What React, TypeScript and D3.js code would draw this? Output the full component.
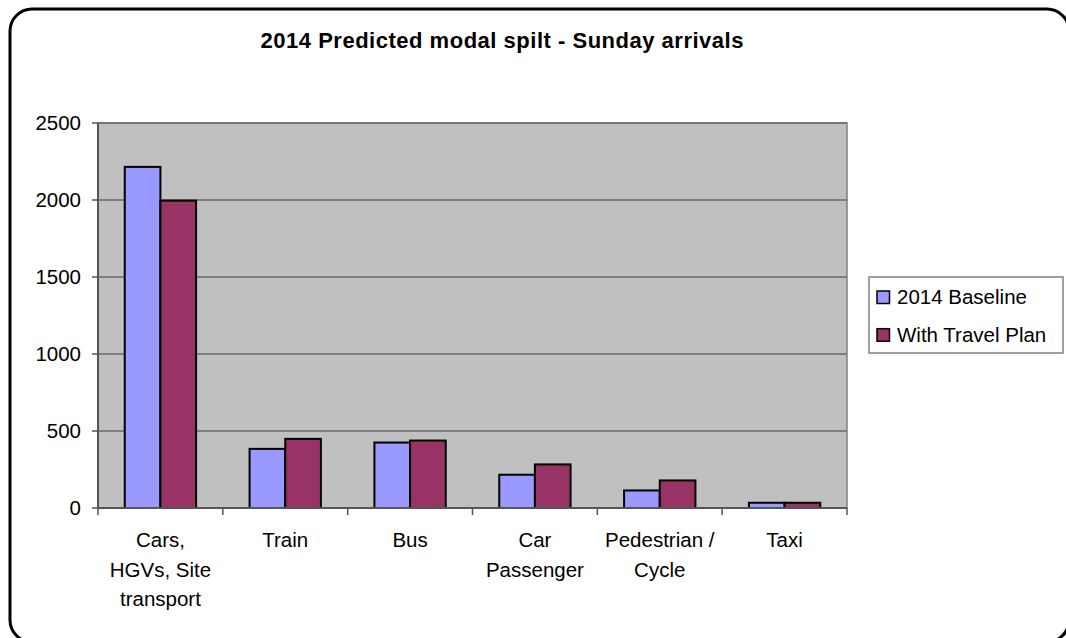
import { useMemo } from "react";
import * as d3 from "d3";

const categories = [
  ["Cars,", "HGVs, Site", "transport"],
  ["Train"],
  ["Bus"],
  ["Car", "Passenger"],
  ["Pedestrian /", "Cycle"],
  ["Taxi"],
];
const seriesNames = ["2014 Baseline", "With Travel Plan"];
const baseline = [2215, 384, 425, 216, 114, 34];
const withPlan = [1996, 449, 438, 283, 179, 34];
const yTicks = [0, 500, 1000, 1500, 2000, 2500];

const colors = ["#9999FF", "#993366"];
const font = "'Liberation Sans', Arial, sans-serif";
const labelSize = 20.5;

// page coordinates
const plot = { left: 98, right: 847, top: 123, bottom: 508 };

const App = () => {
  const { xScale, x1, yScale, keys } = useMemo(() => {
    const keys = categories.map((c) => c.join(" "));
    const xScale = d3
      .scaleBand<string>()
      .domain(keys)
      .range([plot.left, plot.right])
      .paddingInner(0)
      .paddingOuter(0);
    const bw = xScale.bandwidth();
    const x1 = d3
      .scaleBand<string>()
      .domain(seriesNames)
      .range([(bw * 0.75) / 3.5, (bw * 2.75) / 3.5]);
    const yScale = d3
      .scaleLinear()
      .domain([0, 2500])
      .range([plot.bottom, plot.top]);
    return { xScale, x1, yScale, keys };
  }, []);

  const series = [baseline, withPlan];
  const bounds = [...keys.map((k) => xScale(k) as number), plot.right];

  // outer frame: top, left and the corner arcs (right/bottom run off the page)
  const r = 22;
  const fx0 = 10;
  const fy0 = 9;
  const fx1 = 1069;
  const fy1 = 642;
  const framePath = [
    `M ${fx1 - r} ${fy0}`,
    `L ${fx0 + r} ${fy0}`,
    `A ${r} ${r} 0 0 0 ${fx0} ${fy0 + r}`,
    `L ${fx0} ${fy1 - r}`,
    `A ${r} ${r} 0 0 0 ${fx0 + r} ${fy1}`,
    `M ${fx1 - r} ${fy0}`,
    `A ${r} ${r} 0 0 1 ${fx1} ${fy0 + r}`,
    `M ${fx1} ${fy1 - r}`,
    `A ${r} ${r} 0 0 1 ${fx1 - r} ${fy1}`,
  ].join(" ");

  return (
    <svg
      width={1066}
      height={638}
      style={{ display: "block", position: "fixed", top: 0, left: 0 }}
    >
      <g fontFamily={font}>
        <rect x={0} y={0} width={1066} height={638} fill="#fff" />
        <path d={framePath} fill="none" stroke="#000" strokeWidth={3} />
        <text
          x={502}
          y={48}
          textAnchor="middle"
          fontSize={22}
          fontWeight="bold"
          textLength={483}
          lengthAdjust="spacing"
        >
          2014 Predicted modal spilt - Sunday arrivals
        </text>

        {/* plot area */}
        <rect
          x={plot.left}
          y={plot.top}
          width={plot.right - plot.left}
          height={plot.bottom - plot.top}
          fill="#C0C0C0"
          stroke="#808080"
          strokeWidth={1.5}
        />
        {yTicks.map((t) => (
          <g key={t}>
            <line
              x1={plot.left}
              x2={plot.right}
              y1={yScale(t)}
              y2={yScale(t)}
              stroke="#6a6a6a"
              strokeWidth={1.5}
            />
            <line
              x1={plot.left - 6}
              x2={plot.left}
              y1={yScale(t)}
              y2={yScale(t)}
              stroke="#555"
              strokeWidth={1.5}
            />
            <text
              x={81}
              y={yScale(t)}
              dy="0.36em"
              textAnchor="end"
              fontSize={labelSize}
              fill="#000"
            >
              {t}
            </text>
          </g>
        ))}

        {/* bars */}
        {series.map((vals, s) =>
          vals.map((v, i) => (
            <rect
              key={`${s}-${i}`}
              x={(xScale(keys[i]) as number) + (x1(seriesNames[s]) as number)}
              y={yScale(v)}
              width={x1.bandwidth()}
              height={yScale(0) - yScale(v)}
              fill={colors[s]}
              stroke="#000"
              strokeWidth={2}
            />
          ))
        )}

        {/* axes */}
        <line
          x1={plot.left}
          x2={plot.left}
          y1={plot.top}
          y2={plot.bottom}
          stroke="#555"
          strokeWidth={2}
        />
        <line
          x1={plot.left}
          x2={plot.right}
          y1={plot.bottom}
          y2={plot.bottom}
          stroke="#555"
          strokeWidth={2}
        />
        {bounds.map((b, i) => (
          <line
            key={i}
            x1={b}
            x2={b}
            y1={plot.bottom}
            y2={plot.bottom + 7}
            stroke="#555"
            strokeWidth={1.5}
          />
        ))}
        {categories.map((lines, i) => {
          const cx = (xScale(keys[i]) as number) + xScale.bandwidth() / 2;
          return (
            <text key={i} x={cx} y={547} textAnchor="middle" fontSize={labelSize}>
              {lines.map((l, j) => (
                <tspan key={j} x={cx} dy={j === 0 ? 0 : 29.5}>
                  {l}
                </tspan>
              ))}
            </text>
          );
        })}

        {/* legend */}
        <rect x={869} y={277} width={194} height={76} fill="#fff" stroke="#808080" strokeWidth={1.5} />
        {seriesNames.map((n, i) => (
          <g key={n} transform={`translate(0, ${i * 37.7})`}>
            <rect x={877} y={291} width={12.5} height={12.5} fill={colors[i]} stroke="#000" strokeWidth={1.5} />
            <text x={897} y={304} fontSize={labelSize}>
              {n}
            </text>
          </g>
        ))}
      </g>
    </svg>
  );
};

export default App;
